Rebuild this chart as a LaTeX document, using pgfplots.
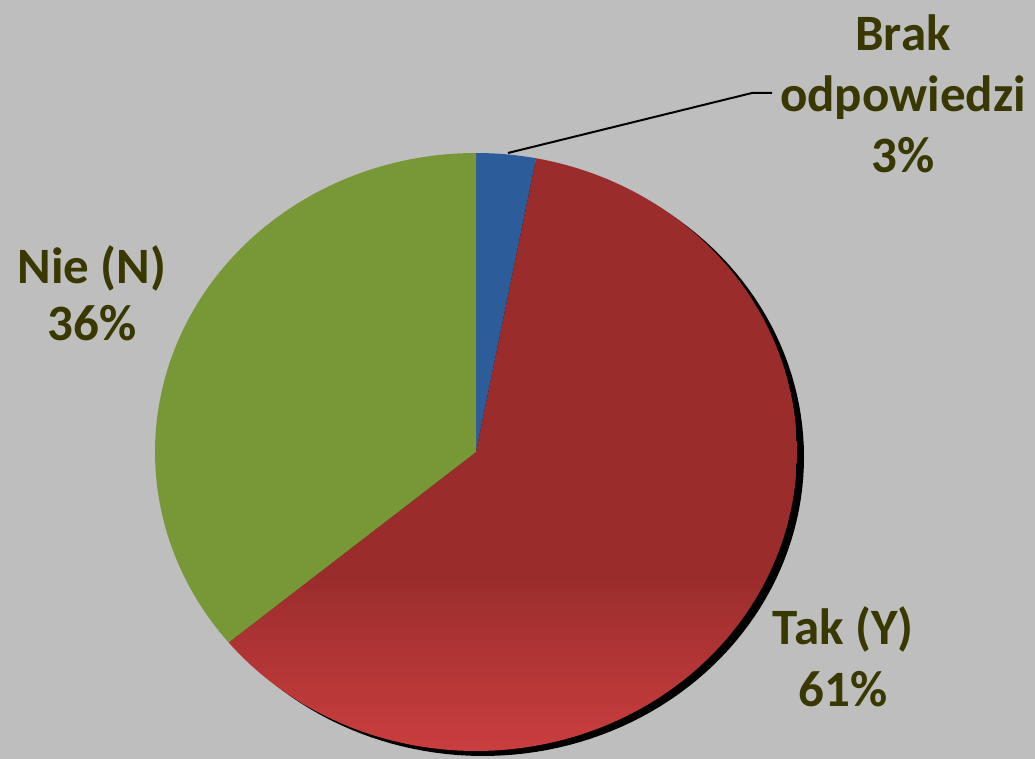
\documentclass[border=0pt]{standalone}
\usepackage{pgfplots}
\pgfplotsset{compat=1.18}
\usepackage{pgfplotstable}
\usepackage{fontspec}
\setmainfont{Carlito}
\definecolor{bgc}{RGB}{190,190,190}
\definecolor{blueS}{RGB}{44,92,154}
\definecolor{redS}{RGB}{154,44,44}
\definecolor{redL}{RGB}{202,62,62}
\definecolor{greenS}{RGB}{120,152,55}
\definecolor{txt}{RGB}{56,56,0}
\pgfdeclareverticalshading{redgrad}{100bp}{color(0bp)=(redL); color(25bp)=(redL); color(40bp)=(redS); color(100bp)=(redS)}
% share of each slice, percent
\def\vBrak{3}
\def\vTak{61}
\def\vNie{36}
\begin{document}
\begin{tikzpicture}
\begin{axis}[
  width=1035pt, height=759pt, scale only axis,
  xmin=0, xmax=1035, ymin=0, ymax=759,
  hide axis, clip=false,
  trig format plots=deg,
]
\fill[bgc] (axis cs:0,0) rectangle (axis cs:1035,759);
% shadow
\addplot[draw=none, fill=black, domain=0:360, samples=180] ({483+321*cos(x)},{302+299*sin(x)}) -- cycle;
% Brak odpowiedzi
\addplot[draw=none, fill=blueS, domain={90-3.6*\vBrak}:90, samples=20]
  ({476+321*cos(x)},{307+299*sin(x)}) -- (axis cs:476,307) -- cycle;
% Tak
\addplot[draw=none, shading=redgrad, domain={90-3.6*\vBrak-3.6*\vTak}:{90-3.6*\vBrak}, samples=150]
  ({476+321*cos(x)},{307+299*sin(x)}) -- (axis cs:476,307) -- cycle;
% Nie
\addplot[draw=none, fill=greenS, domain={90-3.6*\vBrak-3.6*\vTak-3.6*\vNie}:{90-3.6*\vBrak-3.6*\vTak}, samples=100]
  ({476+321*cos(x)},{307+299*sin(x)}) -- (axis cs:476,307) -- cycle;
% leader line
\addplot[black, line width=2pt] coordinates {(508,606) (752,666) (772,666)};
\node[txt, font=\fontsize{51}{61}\selectfont\bfseries, align=center] at (axis cs:903,665) {Brak\\odpowiedzi\\3\%};
\node[txt, font=\fontsize{51}{57}\selectfont\bfseries, align=center] at (axis cs:92,466) {Nie (N)\\36\%};
\node[txt, font=\fontsize{51}{62}\selectfont\bfseries, align=center] at (axis cs:843,102) {Tak (Y)\\61\%};
\end{axis}
\end{tikzpicture}
\end{document}
